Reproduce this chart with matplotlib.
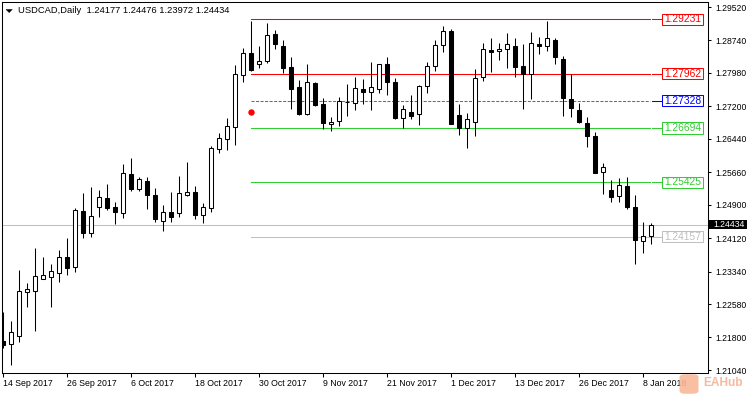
import matplotlib
matplotlib.use('Agg')
import matplotlib.pyplot as plt
from matplotlib import font_manager
from matplotlib.patches import Rectangle, FancyBboxPatch, Polygon
from matplotlib.transforms import blended_transform_factory

# ---------------- data ----------------
symbol = "USDCAD,Daily"
opens = [1.21718, 1.21641, 1.21842, 1.22869, 1.22893, 1.23173, 1.23220, 1.23299, 1.23673, 1.23453,
         1.24755, 1.24234, 1.24841, 1.25051, 1.24841, 1.24715, 1.25612, 1.25261, 1.25455, 1.25121,
         1.24514, 1.24724, 1.24701, 1.25135, 1.25191, 1.24654, 1.24818, 1.26196, 1.26429, 1.26724,
         1.27925, 1.28438, 1.28181, 1.28266, 1.28889, 1.28609, 1.28111, 1.27644, 1.27013, 1.27738,
         1.27247, 1.26780, 1.26850, 1.27294, 1.27284, 1.27604, 1.27541, 1.27611, 1.28188, 1.27768,
         1.26920, 1.27060, 1.27013, 1.27668, 1.28135, 1.28625, 1.28959, 1.26990, 1.26700, 1.26827,
         1.27878, 1.28509, 1.28485, 1.28532, 1.28609, 1.28142, 1.27948, 1.28656, 1.28602, 1.28749,
         1.28305, 1.27371, 1.27107, 1.26810, 1.26518, 1.25659, 1.25238, 1.25098, 1.25339, 1.24848,
         1.24047, 1.24177]
highs = [1.22388, 1.22185, 1.23376, 1.23066, 1.23897, 1.23687, 1.23516, 1.23844, 1.24124, 1.24818,
         1.25182, 1.25308, 1.25245, 1.25385, 1.24965, 1.25852, 1.25993, 1.25556, 1.25542, 1.25292,
         1.24888, 1.25198, 1.25565, 1.25899, 1.25339, 1.24941, 1.26280, 1.26584, 1.26934, 1.28165,
         1.28569, 1.29190, 1.28609, 1.29139, 1.28983, 1.28749, 1.28345, 1.27815, 1.28188, 1.27775,
         1.27387, 1.26943, 1.27411, 1.27721, 1.27885, 1.27838, 1.28235, 1.28188, 1.28352, 1.27854,
         1.27231, 1.27464, 1.27691, 1.28228, 1.28742, 1.29076, 1.29006, 1.27254, 1.27037, 1.28065,
         1.28679, 1.28796, 1.28679, 1.28913, 1.28796, 1.28656, 1.28929, 1.28812, 1.29193, 1.28789,
         1.28382, 1.27948, 1.27277, 1.26950, 1.26593, 1.25869, 1.25479, 1.25525, 1.25549, 1.25121,
         1.24491, 1.24476]
lows = [1.21547, 1.21157, 1.21701, 1.22519, 1.21951, 1.23160, 1.22519, 1.23103, 1.23260, 1.23337,
        1.24124, 1.24154, 1.24621, 1.24778, 1.24451, 1.24598, 1.25229, 1.25229, 1.24808, 1.24505,
        1.24294, 1.24505, 1.24621, 1.25112, 1.24561, 1.24481, 1.24738, 1.26102, 1.26180, 1.26296,
        1.27775, 1.28025, 1.28102, 1.28205, 1.28532, 1.27971, 1.27130, 1.26997, 1.26997, 1.27207,
        1.26663, 1.26630, 1.26740, 1.26974, 1.27114, 1.27254, 1.27114, 1.27518, 1.27464, 1.26904,
        1.26700, 1.26904, 1.26764, 1.27518, 1.28025, 1.28476, 1.26787, 1.26530, 1.26219, 1.26514,
        1.27798, 1.28002, 1.28282, 1.28102, 1.27892, 1.27130, 1.27378, 1.28415, 1.28485, 1.28181,
        1.26981, 1.26957, 1.26810, 1.26257, 1.25640, 1.25145, 1.24972, 1.24972, 1.24808, 1.23523,
        1.23766, 1.23972]
closes = [1.21613, 1.21921, 1.22886, 1.22932, 1.23236, 1.23260, 1.23346, 1.23673, 1.23430, 1.24771,
          1.24241, 1.24631, 1.25075, 1.24818, 1.24738, 1.25635, 1.25268, 1.25495, 1.25135, 1.24575,
          1.24724, 1.24621, 1.25168, 1.25191, 1.24654, 1.24841, 1.26219, 1.26453, 1.26740, 1.27948,
          1.28438, 1.28048, 1.28252, 1.28859, 1.28649, 1.28102, 1.27597, 1.27020, 1.27761, 1.27231,
          1.26803, 1.26841, 1.27324, 1.27308, 1.27621, 1.27541, 1.27644, 1.28181, 1.27775, 1.26934,
          1.27130, 1.26981, 1.27668, 1.28135, 1.28625, 1.28952, 1.26794, 1.26700, 1.26904, 1.27854,
          1.28532, 1.28476, 1.28532, 1.28649, 1.28125, 1.27948, 1.28672, 1.28616, 1.28789, 1.28345,
          1.27387, 1.27172, 1.26841, 1.26514, 1.25649, 1.25775, 1.25089, 1.25355, 1.24855, 1.24084,
          1.24177, 1.24434]

date_tick_index = [0, 8, 16, 24, 32, 40, 48, 56, 64, 72, 80]
date_labels = ['14 Sep 2017', '26 Sep 2017', '6 Oct 2017', '18 Oct 2017', '30 Oct 2017',
               '9 Nov 2017', '21 Nov 2017', '1 Dec 2017', '13 Dec 2017', '26 Dec 2017', '8 Jan 2018']

price_ticks = [1.29520, 1.28740, 1.27980, 1.27200, 1.26440, 1.25660,
               1.24900, 1.24120, 1.23340, 1.22580, 1.21800, 1.21040]

level_prices = [1.29231, 1.27962, 1.27328, 1.26694, 1.25425, 1.24157]
level_line_colors = ['#ff0000', '#ff0000', '#4169e1', '#32cd32', '#32cd32', '#c0c0c0']
level_label_colors = ['#ff0000', '#ff0000', '#0000ff', '#32cd32', '#32cd32', '#c0c0c0']
level_styles = ['solid', 'solid', 'dashed', 'solid', 'solid', 'solid']
level_start_index = 31

bid_price = closes[-1]
signal_index = 31
signal_price = 1.27074

# ---------------- fonts ----------------
names = {f.name for f in font_manager.fontManager.ttflist}
if 'Liberation Sans Narrow' in names:
    fam = 'Liberation Sans Narrow'
    sc = 1 / 0.82
else:
    fam = 'Liberation Sans'
    sc = 1.0
plt.rcParams['font.family'] = [fam, 'DejaVu Sans']
axis_fs = 6.2 * sc
date_fs = 6.35 * sc
box_fs = 7.4 * sc
title_fs = 6.75 * sc

# ---------------- figure ----------------
W, H = 750, 394
fig = plt.figure(figsize=(W / 100, H / 100), dpi=100)
ax_l, ax_r, ax_t, ax_b = 2.3, 707.7, 2.3, 373.0
ax = fig.add_axes([ax_l / W, (H - ax_b) / H, (ax_r - ax_l) / W, (ax_b - ax_t) / H])
ax.set_xlim(-0.125, 88.05)
ax.set_ylim(1.20970, 1.29630)
lw = 0.75

for s in ax.spines.values():
    s.set_linewidth(lw)
    s.set_color('black')

price_per_px = (1.29630 - 1.20970) / (ax_b - ax_t)

# bid line (full width)
ax.axhline(bid_price, color='#c0c0c0', lw=lw, zorder=1)

# level lines with labels
trans = blended_transform_factory(ax.transAxes, ax.transData)
def xfrac(px):
    return (px - ax_l) / (ax_r - ax_l)
line_end_index = (650 - 3.3) / 8
for p, lc, tc, ls in zip(level_prices, level_line_colors, level_label_colors, level_styles):
    if ls == 'dashed':
        ax.plot([level_start_index, line_end_index], [p, p], color=lc, lw=lw,
                dashes=(2.9, 1.45), zorder=2)
        ax.plot([xfrac(652), xfrac(662.3)], [p, p], color=tc, lw=lw, transform=trans, zorder=2)
    else:
        ax.plot([level_start_index, line_end_index], [p, p], color=lc, lw=lw, zorder=2)
        ax.plot([xfrac(652), xfrac(662.3)], [p, p], color=lc, lw=lw, transform=trans, zorder=2)
    bh = 11.3 * price_per_px
    ax.add_patch(Rectangle((xfrac(662.3), p - bh / 2), xfrac(703.3) - xfrac(662.3), bh,
                           transform=trans, facecolor='white', edgecolor=tc, lw=lw,
                           zorder=3, clip_on=False))
    ax.text((xfrac(662.3) + xfrac(703.3)) / 2, p, f"{p:.5f}", transform=trans,
            ha='center', va='center', color=tc, fontsize=box_fs, zorder=4)

# candles
body_w = 0.5
min_h = 0.00004
for i, (o, h, l, c) in enumerate(zip(opens, highs, lows, closes)):
    ax.vlines(i, l, h, color='black', lw=lw, zorder=5)
    bull = c >= o
    bottom = min(o, c)
    height = max(abs(c - o), min_h)
    ax.bar(i, height, width=body_w, bottom=bottom, color='white' if bull else 'black',
           edgecolor='black', linewidth=lw, zorder=6)

# signal dot
ax.plot([signal_index], [signal_price], 'o', color='#ff0000', ms=3.6, mec='#ff0000', zorder=7)

# axes ticks
ax.yaxis.tick_right()
ax.set_yticks(price_ticks)
ax.set_yticklabels([f"{t:.5f}" for t in price_ticks])
ax.tick_params(axis='y', length=2.5, width=lw, pad=3, labelsize=axis_fs, colors='black')
ax.set_xticks(date_tick_index)
ax.set_xticklabels(date_labels)
ax.tick_params(axis='x', length=3, width=lw, pad=1.5, labelsize=date_fs, colors='black')
for t in ax.get_xticklabels():
    t.set_ha('left')

# current price box on the axis
bb = 8.6 * price_per_px
ax.add_patch(Rectangle((xfrac(708.7), bid_price - bb / 2), xfrac(746.7) - xfrac(708.7), bb,
                       transform=trans, facecolor='black', edgecolor='black', lw=0,
                       clip_on=False, zorder=8))
ax.text(xfrac(713.5), bid_price, f"{bid_price:.5f}", transform=trans, ha='left', va='center',
        color='white', fontsize=axis_fs, clip_on=False, zorder=9)

# title
fig.text(18.3 / W, 1 - 10.9 / H,
         f"{symbol}  {opens[-1]:.5f} {highs[-1]:.5f} {lows[-1]:.5f} {closes[-1]:.5f}",
         ha='left', va='center', fontsize=title_fs, color='black')
fig.patches.append(Polygon([(6 / W, 1 - 9.4 / H), (12.3 / W, 1 - 9.4 / H), (9.15 / W, 1 - 12.6 / H)],
                           closed=True, transform=fig.transFigure, facecolor='black',
                           edgecolor='black', lw=0.3))

# watermark
fig.patches.append(FancyBboxPatch((681 / W, 1 - 393 / H), 16 / W, 18 / H,
                                  boxstyle='round,pad=0.002,rounding_size=0.008',
                                  transform=fig.transFigure, facecolor='#f9b898',
                                  edgecolor='none', alpha=0.9, zorder=10))
fig.text(703 / W, 1 - 382.5 / H, "EAHub", ha='left', va='center', fontsize=9 * sc * 0.95,
         fontweight='bold', color='#f7b293', alpha=0.9, zorder=11)

fig.savefig('out.png', dpi=100, facecolor='white')
